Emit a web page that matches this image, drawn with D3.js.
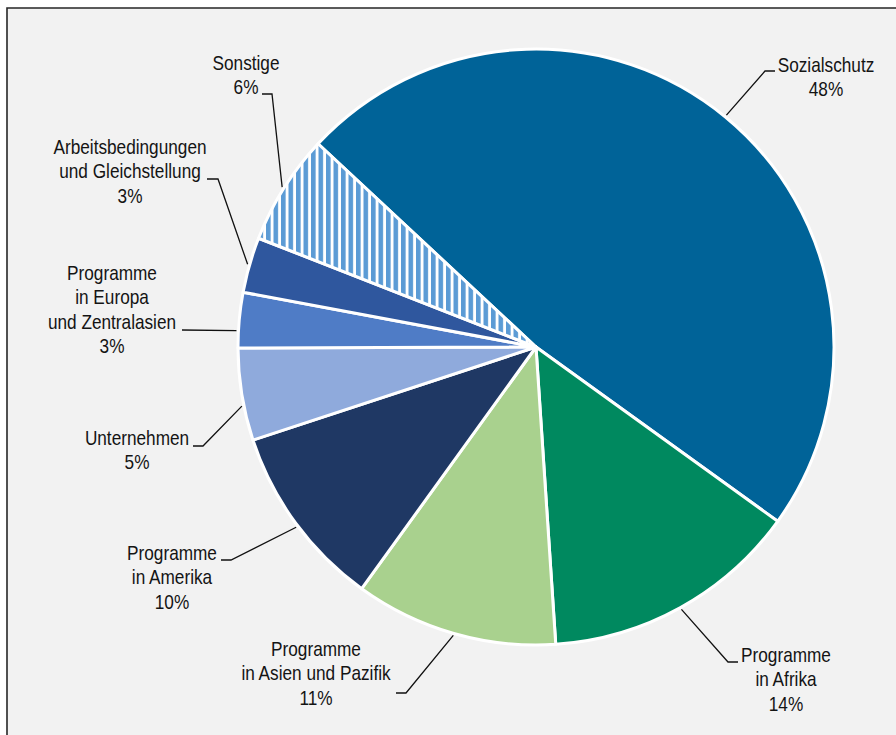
<!DOCTYPE html>
<html>
<head>
<meta charset="utf-8">
<script src="https://cdn.jsdelivr.net/npm/d3@7"></script>
<style>
  html, body { margin: 0; padding: 0; background: #ffffff; }
  svg { display: block; }
  text { font-family: "Liberation Sans", Arial, sans-serif; font-size: 21px; fill: #141414; }
</style>
</head>
<body>
<svg id="chart" width="896" height="735"></svg>
<script>
// Budget shares by area (percent)
const categories = [
  "Sozialschutz",
  "Programme in Afrika",
  "Programme in Asien und Pazifik",
  "Programme in Amerika",
  "Unternehmen",
  "Programme in Europa und Zentralasien",
  "Arbeitsbedingungen und Gleichstellung",
  "Sonstige"
];
const shares = [48, 14, 11, 10, 5, 3, 3, 6];
// Label lines as printed next to each slice
const labelLines = [
  ["Sozialschutz", "48%"],
  ["Programme", "in Afrika", "14%"],
  ["Programme", "in Asien und Pazifik", "11%"],
  ["Programme", "in Amerika", "10%"],
  ["Unternehmen", "5%"],
  ["Programme", "in Europa", "und Zentralasien", "3%"],
  ["Arbeitsbedingungen", "und Gleichstellung", "3%"],
  ["Sonstige", "6%"]
];
const fills = ["#006398", "#00895f", "#a9d18e", "#1f3864", "#8faadc", "#4f7cc6", "#2f579e", "url(#stripes)"];

// Label placement: where along the slice the leader leaves the rim (0..1),
// elbow of the leader, end of its short horizontal tick, text centre and first baseline
const labelLayout = [
  { at: 0.5,  elbow: [765, 71],  end: [775, 71],  tx: 826, ty: 72 },
  { at: 0.5,  elbow: [728, 662], end: [738, 662], tx: 786, ty: 662 },
  { at: 0.5,  elbow: [406, 693], end: [396, 693], tx: 316, ty: 656 },
  { at: 0.48, elbow: [231, 560], end: [221, 560], tx: 172, ty: 560 },
  { at: 0.38, elbow: [203, 446], end: [193, 446], tx: 137, ty: 445 },
  { at: 0.31, elbow: [182, 330], end: [182, 330], tx: 112, ty: 280 },
  { at: 0.5,  elbow: [218, 179], end: [207, 179], tx: 130, ty: 154 },
  { at: 0.5,  elbow: [272, 94],  end: [262, 94],  tx: 246, ty: 70 }
];
const lineHeight = 24.4;
const narrow = 0.82; // horizontal condensing of the label face

const W = 896, H = 735;
const cx = 536, cy = 347, R = 298;

const svg = d3.select("#chart");
const defs = svg.append("defs");
const pat = defs.append("pattern")
  .attr("id", "stripes")
  .attr("patternUnits", "userSpaceOnUse")
  .attr("width", 7.5).attr("height", 10);
pat.append("rect").attr("width", 7.5).attr("height", 10).attr("fill", "#ffffff");
pat.append("rect").attr("x", 0).attr("width", 4.6).attr("height", 10).attr("fill", "#5b9bd5");

// Panel background and frame
svg.append("rect").attr("x", 7).attr("y", 8).attr("width", W).attr("height", H).attr("fill", "#f2f2f2");
svg.append("path").attr("d", `M7,${H + 5}V8H${W + 5}`)
  .attr("fill", "none").attr("stroke", "#262626").attr("stroke-width", 1.6);

const data = categories.map((c, i) => ({ name: c, value: shares[i], idx: i }));
const pie = d3.pie().value(d => d.value).sort(null)
  .startAngle(-47 * Math.PI / 180)
  .endAngle((360 - 47) * Math.PI / 180);
const arcs = pie(data);
const arc = d3.arc().innerRadius(0).outerRadius(R);

const g = svg.append("g").attr("transform", `translate(${cx},${cy})`);
g.selectAll("path.slice").data(arcs).join("path")
  .attr("class", "slice")
  .attr("d", arc)
  .attr("fill", d => fills[d.data.idx])
  .attr("stroke", "#ffffff")
  .attr("stroke-width", 3)
  .attr("stroke-linejoin", "round");

// Leader lines from the rim of each slice
const lines = svg.append("g").attr("fill", "none").attr("stroke", "#111").attr("stroke-width", 1.3);
arcs.forEach(a => {
  const L = labelLayout[a.data.idx];
  const ang = a.startAngle + L.at * (a.endAngle - a.startAngle);
  const rx = cx + (R + 2) * Math.sin(ang);
  const ry = cy - (R + 2) * Math.cos(ang);
  lines.append("path").attr("d", d3.line()([[rx, ry], L.elbow, L.end]));
});

// Labels, set in a condensed width
const labels = svg.append("g");
arcs.forEach(a => {
  const L = labelLayout[a.data.idx];
  const t = labels.append("text")
    .attr("text-anchor", "middle")
    .attr("transform", `translate(${L.tx},0) scale(${narrow},1)`);
  labelLines[a.data.idx].forEach((s, j) => {
    t.append("tspan").attr("x", 0).attr("y", L.ty + j * lineHeight).text(s);
  });
});
</script>
</body>
</html>
